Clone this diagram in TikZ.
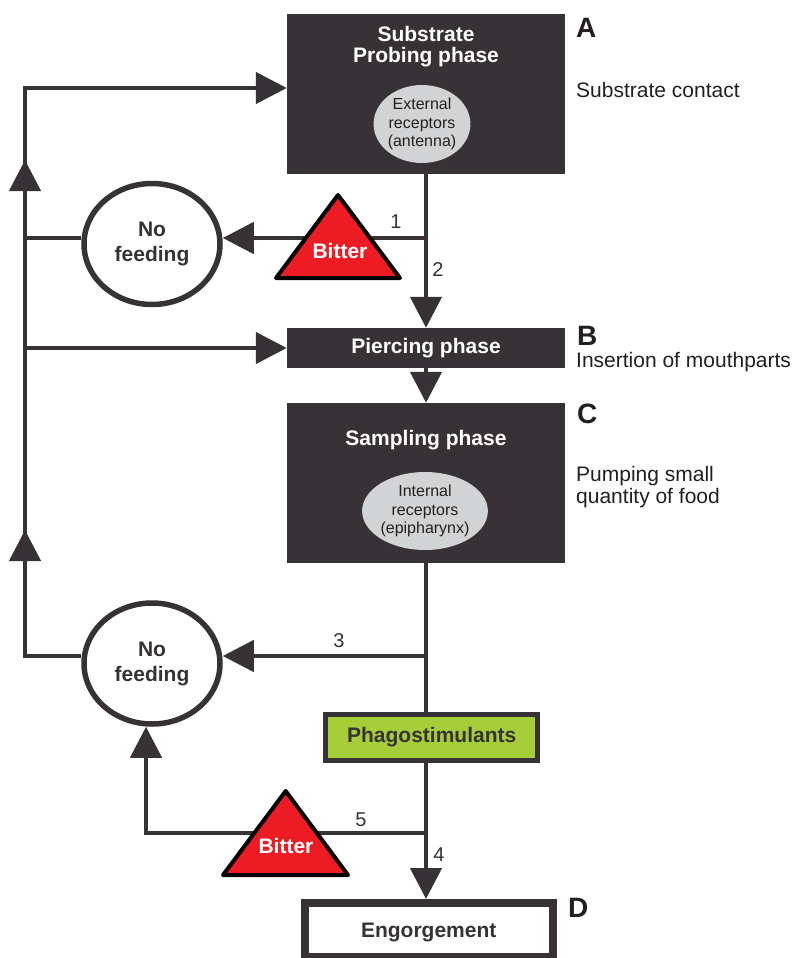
\documentclass[tikz,border=0pt]{standalone}
\usepackage{fontspec}
\setmainfont{Liberation Sans}
\usepackage{tikz}
\usetikzlibrary{arrows.meta,positioning,calc,shapes.geometric}
\definecolor{ink}{HTML}{363235}
\definecolor{textblack}{HTML}{231F20}
\definecolor{bitterred}{HTML}{ED1C24}
\definecolor{phagogreen}{HTML}{A6CE39}
\definecolor{receptorgrey}{HTML}{D1D3D4}
\tikzset{
  % Base styles
  feeding base/.style={
    x=1pt, y=-1pt,
    every node/.style={text=textblack},
  },
  % Phase boxes
  phase box/.style={rectangle, fill=ink, draw=none, minimum width=278pt, inner sep=0pt, text=white, font=\bfseries\fontsize{21}{21}\selectfont},
  phase title/.style={inner sep=0pt, align=center, text=white, font=\bfseries\fontsize{21}{21}\selectfont},
  receptor node/.style={ellipse, fill=receptorgrey, minimum width=96pt, minimum height=78pt, inner sep=0pt, align=center, font=\fontsize{16}{18.5}\selectfont},
  stim box/.style={rectangle, draw=ink, line width=5pt, fill=phagogreen, minimum width=212pt, minimum height=46pt, inner sep=0pt, text=ink, font=\bfseries\fontsize{21}{21}\selectfont},
  end box/.style={rectangle, draw=ink, line width=8pt, fill=white, minimum width=248pt, minimum height=54pt, inner sep=0pt, text depth=0pt, text=ink, font=\bfseries\fontsize{21}{21}\selectfont},
  % Outcome and deterrent
  stop node/.style={ellipse, draw=ink, line width=5.5pt, fill=white, minimum width=136pt, minimum height=121pt, inner sep=0pt, align=center, text=ink, font=\bfseries\fontsize{21}{25}\selectfont},
  bitter shape/.style={fill=bitterred, draw=black, line width=4pt, line join=round},
  bitter text/.style={inner sep=0pt, text=white, font=\bfseries\fontsize{21}{21}\selectfont},
  % Connectors
  link/.style={draw=ink, line width=4.5pt},
  flow/.style={link, -{Triangle[length=31pt,width=31pt]}},
  branch label/.style={inner sep=0pt, text=ink, font=\fontsize{20}{20}\selectfont},
  % Side notes
  stage letter/.style={anchor=west, inner sep=0pt, font=\bfseries\fontsize{28}{28}\selectfont},
  stage note/.style={anchor=base west, inner sep=0pt, align=left, font=\fontsize{21}{22}\selectfont},
}

\begin{document}
\begin{tikzpicture}[feeding base]
  \useasboundingbox (0,0) rectangle (795,958);

  % phases
  \node[phase box, minimum height=160pt] (boxA) at (426,94) {};
  \node[phase title, below=12.5pt of boxA.north] (titleA) {Substrate\\Probing phase};
  \node[receptor node] (extrec) at (422,124) {External\\receptors\\(antenna)};
  \node[phase box, minimum height=40pt] (pierce) at (426,348) {Piercing phase};
  \node[phase box, minimum height=160pt] (samp) at (426,483) {};
  \node[phase title, below=27pt of samp.north] (titleC) {Sampling phase};
  \node[receptor node] (intrec) at (425,511) {Internal\\receptors\\(epipharynx)};
  \node[stim box] (phago) at (431.7,737.5) {Phagostimulants};
  \node[end box] (engorge) at (428.7,930) {Engorgement};

  % no feeding outcomes
  \node[stop node] (nf1) at (152,244) {No\\feeding};
  \node[stop node] (nf2) at (152,663.5) {No\\feeding};

  % branch points
  \coordinate (j1) at (426,238);
  \coordinate (j3) at (426,656);
  \coordinate (j5) at (426,833);
  \coordinate (r5) at (146,833);
  \coordinate (lt) at (25,88);
  \coordinate (lm1) at (25,238);
  \coordinate (lm2) at (25,348);
  \coordinate (lb) at (25,656);
  \coordinate (up1) at (25,160);
  \coordinate (up2) at (25,530);

  % main line
  \draw[flow] (boxA.south) -- (pierce.north);
  \draw[flow] (pierce.south) -- (samp.north);
  \draw[link] (samp.south) -- (samp.south |- phago.north);
  \draw[flow] (phago.south -| samp.south) -- (engorge.north -| samp.south);

  % rejection branches
  \draw[flow] (j1) -- (j1 -| nf1.east);
  \draw[flow] (j3) -- (j3 -| nf2.east);
  \draw[flow] (j5) -- (r5) -- (r5 |- nf2.south);

  % return to probing
  \draw[flow] (nf2.west |- lb) -- (lb) -- (lt) -- (lt -| boxA.west);
  \draw[flow] (lb) -- (up2);
  \draw[flow] (up2) -- (up1);
  \draw[link] (nf1.west |- lm1) -- (lm1);
  \draw[flow] (lm2) -- (pierce.west);

  % bitter deterrents
  \draw[bitter shape] (338,195) -- (400,278) -- (276,278) -- cycle;
  \node[bitter text] (bitter1) at (340,250.5) {Bitter};
  \draw[bitter shape] (285.7,791) -- (348,875) -- (223,875) -- cycle;
  \node[bitter text] (bitter2) at (286,845.5) {Bitter};

  % branch numbers
  \node[branch label] (n1) at (396,222) {1};
  \node[branch label] (n2) at (438,270) {2};
  \node[branch label] (n3) at (339,641) {3};
  \node[branch label] (n4) at (439,855) {4};
  \node[branch label] (n5) at (361,820) {5};

  % stage notes
  \node[stage letter] (lblA) at (576,28) {A};
  \node[stage note] (noteA) at (576,97) {Substrate contact};
  \node[stage letter] (lblB) at (577,336) {B};
  \node[stage note] (noteB) at (576,367) {Insertion of mouthparts};
  \node[stage letter] (lblC) at (577,414) {C};
  \node[stage note] (noteC) at (576,503) {Pumping small\\quantity of food};
  \node[stage letter] (lblD) at (568,908) {D};
\end{tikzpicture}
\end{document}
